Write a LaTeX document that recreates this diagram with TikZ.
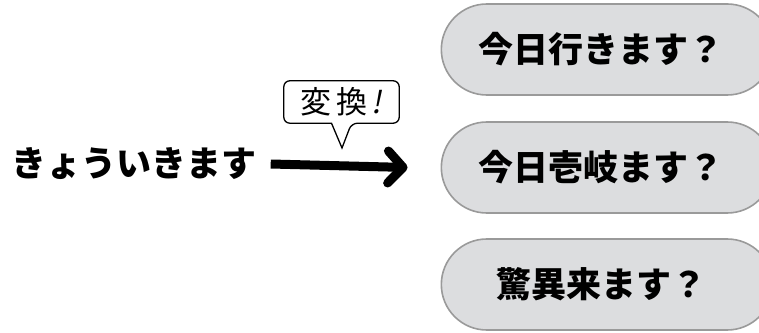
\documentclass[tikz,border=0pt]{standalone}
\usepackage{fontspec}
\usetikzlibrary{arrows.meta,shapes.misc}
\newfontfamily\jp{Noto Sans CJK JP}
\newfontfamily\jpslant{Noto Sans CJK JP}[FakeSlant=0.2]
\definecolor{candfill}{HTML}{DCDDDF}
\definecolor{candline}{HTML}{9A9A9A}
\tikzset{
  cand/.style={rounded rectangle,draw=candline,fill=candfill,line width=1.6pt,
    minimum width=338pt,minimum height=91pt,font=\jp\bfseries\fontsize{35}{35}\selectfont},
  bigarrow/.style={line width=9pt,-{Straight Barb[length=15pt,width=32pt,round]}}
}
\begin{document}
\begin{tikzpicture}[x=1pt,y=1pt]
  \useasboundingbox (0,0) rectangle (759,332);
  \clip (0,0) rectangle (759,332);
  \node[font=\jp\bfseries\fontsize{35}{35}\selectfont,inner sep=0pt] (src) at (134,168) {きょういきます};
  \node[cand] (c1) at (607,282.5) {\hspace*{-12pt}今日行きます？};
  \node[cand] (c2) at (607,164.5) {\hspace*{-12pt}今日壱岐ます？};
  \node[cand] (c3) at (607,47.5) {\hspace*{-12pt}驚異来ます？};
  \draw[bigarrow] ([xshift=14pt]src.east) -- ([xshift=-33pt]c2.west);
  % bubble
  \node[minimum width=115pt,minimum height=42pt,inner sep=0pt,
    font=\jp\fontsize{31}{31}\selectfont] (bub) at (341.5,230) {変\hspace{5pt}換\hspace{4pt}{\jpslant !}};
  \coordinate (tip) at (342,184);
  \draw[line width=1.3pt] ([xshift=-10pt]bub.south) [rounded corners=6pt]-- (bub.south west)
    -- (bub.north west) -- (bub.north east) -- (bub.south east)
    -- ([xshift=10pt]bub.south) [sharp corners]-- (tip) -- cycle;
\end{tikzpicture}
\end{document}
